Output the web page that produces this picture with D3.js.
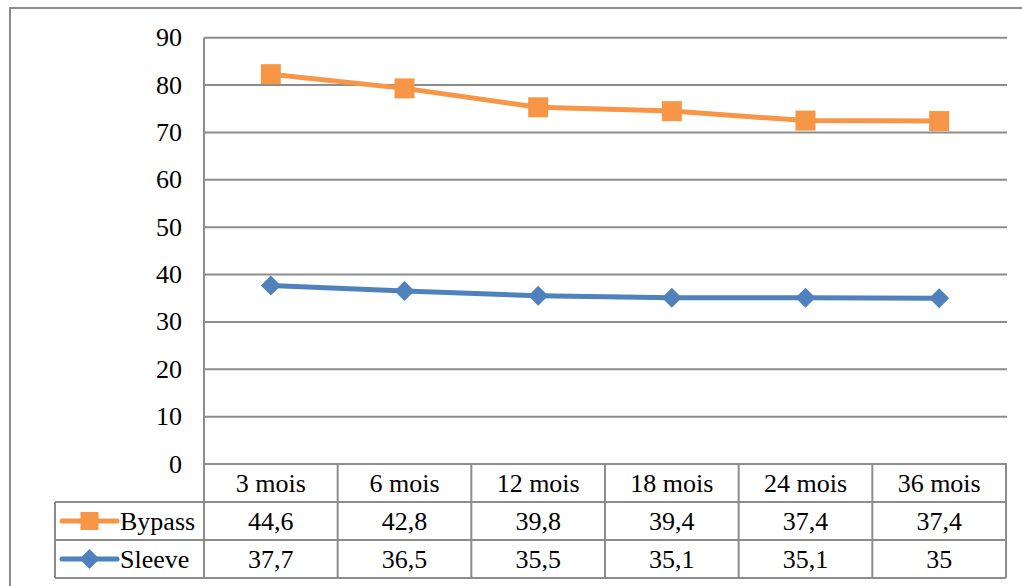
<!DOCTYPE html>
<html>
<head>
<meta charset="utf-8">
<script src="https://cdn.jsdelivr.net/npm/d3@7"></script>
<style>
  html, body { margin: 0; padding: 0; background: #fff; }
  svg { display: block; }
</style>
</head>
<body>
<svg id="chart" width="1022" height="586"></svg>
<script>
// Periods after surgery
const categories = ["3 mois", "6 mois", "12 mois", "18 mois", "24 mois", "36 mois"];
// Series values (the chart stacks Bypass on top of Sleeve)
const sleeve = [37.7, 36.5, 35.5, 35.1, 35.1, 35];
const bypass = [44.6, 42.8, 39.8, 39.4, 37.4, 37.4];
const yTicks = [0, 10, 20, 30, 40, 50, 60, 70, 80, 90];
const seriesNames = ["Bypass", "Sleeve"];

const colors = { Bypass: "#F79646", Sleeve: "#4F81BD" };
const gridColor = "#8C8C8C";
const fontSize = 26;
const fontFamily = "'Liberation Serif', 'Times New Roman', Times, 'DejaVu Serif', serif";

const svg = d3.select("#chart")
  .attr("font-family", fontFamily)
  .attr("font-size", fontSize);

// plot area and data table geometry
const plot = { left: 204, right: 1006, top: 37.7, bottom: 464 };
const tableLeft = 55;
const rowH = 38;

const rows = categories.map((c, i) => ({ cat: c, Sleeve: sleeve[i], Bypass: bypass[i] }));
const stacked = d3.stack().keys(["Sleeve", "Bypass"])(rows);

const x = d3.scaleBand().domain(categories).range([plot.left, plot.right]);
const y = d3.scaleLinear().domain([0, 90]).range([plot.bottom, plot.top]);

// outer chart border
svg.append("rect")
  .attr("x", 10).attr("y", 8).attr("width", 1030).attr("height", 600)
  .attr("fill", "none").attr("stroke", gridColor).attr("stroke-width", 2);

// horizontal gridlines
svg.append("g").selectAll("line").data(yTicks).join("line")
  .attr("x1", plot.left).attr("x2", plot.right + 1)
  .attr("y1", d => y(d)).attr("y2", d => y(d))
  .attr("stroke", gridColor).attr("stroke-width", 2);

// value axis labels
svg.append("g").selectAll("text").data(yTicks).join("text")
  .attr("x", 182).attr("y", d => y(d))
  .attr("text-anchor", "end").attr("dominant-baseline", "central")
  .attr("font-family", fontFamily)
  .text(d => d);

// data table grid
const tTop = plot.bottom;
const r1 = tTop + rowH, r2 = r1 + rowH, r3 = r2 + rowH;
const tg = svg.append("g").attr("stroke", gridColor).attr("stroke-width", 2);
[r1, r2, r3].forEach(yy => {
  tg.append("line").attr("x1", tableLeft).attr("x2", plot.right).attr("y1", yy).attr("y2", yy);
});
tg.append("line").attr("x1", tableLeft).attr("x2", tableLeft).attr("y1", r1).attr("y2", r3);
// value axis line, running down through the table
tg.append("line").attr("x1", plot.left).attr("x2", plot.left).attr("y1", plot.top).attr("y2", r3);
categories.forEach(c => {
  const xx = x(c) + x.bandwidth();
  tg.append("line").attr("x1", xx).attr("x2", xx).attr("y1", tTop).attr("y2", r3);
});

// category header row
svg.append("g").selectAll("text").data(categories).join("text")
  .attr("x", d => x(d) + x.bandwidth() / 2).attr("y", tTop + rowH / 2)
  .attr("text-anchor", "middle").attr("dominant-baseline", "central")
  .attr("font-family", fontFamily)
  .text(d => d);

// value rows
const fmt = v => String(v).replace(".", ",");
const rowY = { Bypass: r1 + rowH / 2, Sleeve: r2 + rowH / 2 };
const seriesData = { Bypass: bypass, Sleeve: sleeve };
seriesNames.forEach(name => {
  svg.append("g").selectAll("text").data(seriesData[name]).join("text")
    .attr("x", (d, i) => x(categories[i]) + x.bandwidth() / 2).attr("y", rowY[name])
    .attr("text-anchor", "middle").attr("dominant-baseline", "central")
    .attr("font-family", fontFamily)
    .text(d => fmt(d));
});

// marker shapes
const diamondPath = s => `M0,${-s}L${s},0L0,${s}L${-s},0Z`;

function drawMarker(g, name, cx, cy, size) {
  if (name === "Bypass") {
    g.append("rect")
      .attr("x", cx - size / 2).attr("y", cy - size / 2)
      .attr("width", size).attr("height", size)
      .attr("fill", colors.Bypass);
  } else {
    g.append("path")
      .attr("transform", `translate(${cx},${cy})`)
      .attr("d", diamondPath(size / 2))
      .attr("fill", colors.Sleeve);
  }
}

// legend keys in the table row headers
seriesNames.forEach(name => {
  const g = svg.append("g");
  const cy = rowY[name];
  g.append("line").attr("x1", 62).attr("x2", 117).attr("y1", cy).attr("y2", cy)
    .attr("stroke", colors[name]).attr("stroke-width", 5).attr("stroke-linecap", "round");
  drawMarker(g, name, 89.5, cy, name === "Bypass" ? 18 : 20);
  g.append("text").attr("x", 120).attr("y", cy)
    .attr("dominant-baseline", "central")
    .attr("font-family", fontFamily)
    .text(name);
});

// stacked lines with markers
const line = d3.line()
  .x((d, i) => x(categories[i]) + x.bandwidth() / 2)
  .y(d => y(d[1]));

stacked.forEach(layer => {
  const name = layer.key;
  const g = svg.append("g");
  g.append("path").datum(layer)
    .attr("d", line)
    .attr("fill", "none")
    .attr("stroke", colors[name])
    .attr("stroke-width", 5)
    .attr("stroke-linejoin", "round");
  layer.forEach((d, i) => {
    drawMarker(g, name, x(categories[i]) + x.bandwidth() / 2, y(d[1]), 20);
  });
});
</script>
</body>
</html>
